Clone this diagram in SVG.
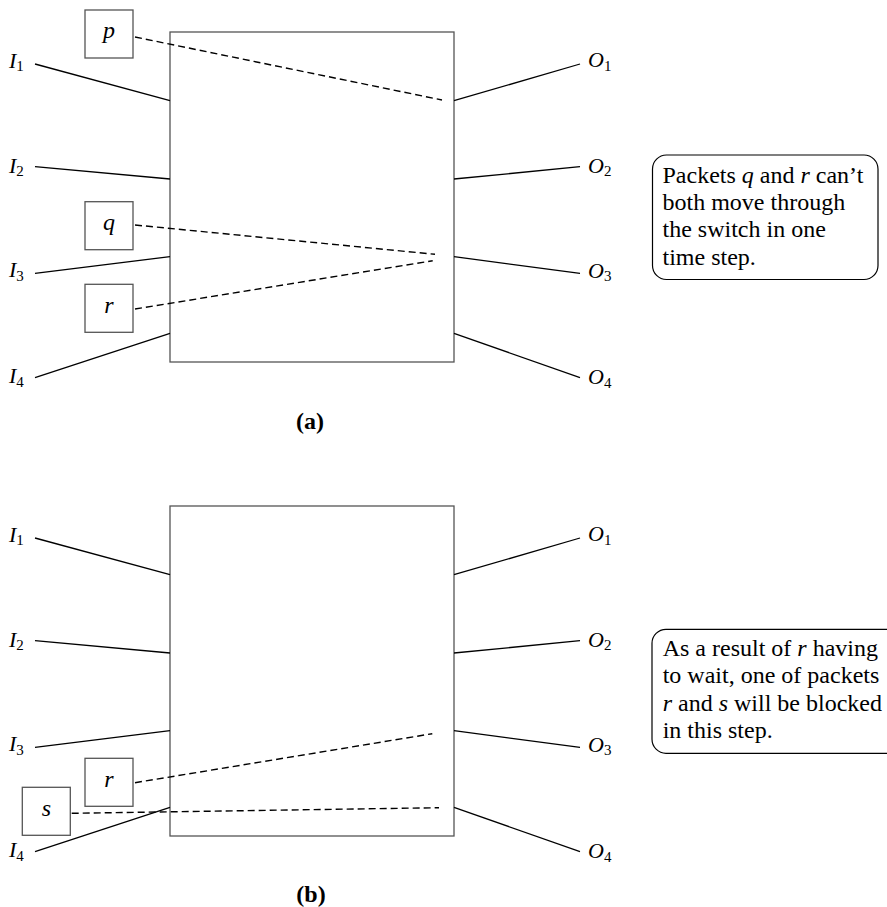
<svg xmlns="http://www.w3.org/2000/svg" width="887" height="907" viewBox="0 0 887 907">
<style>
  .sw { fill: none; stroke: #555; stroke-width: 1.3; }
  .pk { fill: #fff; stroke: #555; stroke-width: 1.3; }
  .ln { stroke: #000; stroke-width: 1.3; fill: none; }
  .dl { stroke: #000; stroke-width: 1.4; fill: none; stroke-dasharray: 7 4; }
  .lbl { font-family: "Liberation Serif", "Times New Roman", serif; font-size: 22px; font-style: italic; fill: #000; }
  .sub { font-size: 15px; font-style: normal; }
  .pl { font-family: "Liberation Serif", "Times New Roman", serif; font-size: 24px; font-style: italic; fill: #000; text-anchor: middle; }
  .note { font-family: "Liberation Serif", "Times New Roman", serif; font-size: 24px; fill: #000; }
  .it { font-style: italic; }
  .cap { font-family: "Liberation Serif", "Times New Roman", serif; font-size: 24px; font-weight: bold; fill: #000; text-anchor: middle; }
  .nb { fill: #fff; stroke: #000; stroke-width: 1.2; }
</style>

<!-- ===== Part (a) ===== -->
<g id="switch-a"><rect class="sw" x="170" y="32" width="284" height="330"/></g>

<g id="connectors-a">
  <line class="ln" x1="35" y1="64" x2="170" y2="100.7"/>
  <line class="ln" x1="35" y1="166.7" x2="170" y2="179"/>
  <line class="ln" x1="35" y1="273.3" x2="170" y2="256.7"/>
  <line class="ln" x1="35" y1="377.7" x2="170" y2="333.3"/>
  <line class="ln" x1="454" y1="100.7" x2="580" y2="64"/>
  <line class="ln" x1="454" y1="179" x2="580" y2="166.7"/>
  <line class="ln" x1="454" y1="256.7" x2="580" y2="273.3"/>
  <line class="ln" x1="454" y1="333.3" x2="580" y2="377.7"/>
  <line class="dl" x1="135" y1="37" x2="442" y2="100"/>
  <line class="dl" x1="135" y1="225" x2="435" y2="254.3"/>
  <line class="dl" x1="135" y1="309" x2="432.7" y2="260.7"/>
</g>

<g id="labels-a">
  <text class="lbl" x="9" y="67.5">I<tspan class="sub" dy="3.5">1</tspan></text>
  <text class="lbl" x="9" y="172.5">I<tspan class="sub" dy="3.5">2</tspan></text>
  <text class="lbl" x="9" y="277">I<tspan class="sub" dy="3.5">3</tspan></text>
  <text class="lbl" x="9" y="383">I<tspan class="sub" dy="3.5">4</tspan></text>
  <text class="lbl" x="588" y="67">O<tspan class="sub" dy="3.5">1</tspan></text>
  <text class="lbl" x="588" y="172.5">O<tspan class="sub" dy="3.5">2</tspan></text>
  <text class="lbl" x="588" y="277.5">O<tspan class="sub" dy="3.5">3</tspan></text>
  <text class="lbl" x="588" y="384">O<tspan class="sub" dy="3.5">4</tspan></text>
</g>

<g id="packet-p-a"><rect class="pk" x="85" y="10" width="48" height="48"/><text class="pl" x="109" y="37.5">p</text></g>
<g id="packet-q-a"><rect class="pk" x="85" y="201.7" width="48" height="48"/><text class="pl" x="109" y="229.5">q</text></g>
<g id="packet-r-a"><rect class="pk" x="85" y="284.3" width="48" height="48"/><text class="pl" x="109" y="313">r</text></g>

<g id="note-a">
  <rect class="nb" x="652.5" y="155" width="225.5" height="124.5" rx="14"/>
  <text class="note" x="662.5" y="182.7">Packets <tspan class="it">q</tspan> and <tspan class="it">r</tspan> can’t</text>
  <text class="note" x="662.5" y="210">both move through</text>
  <text class="note" x="662.5" y="237.3">the switch in one</text>
  <text class="note" x="662.5" y="264.7">time step.</text>
</g>

<g id="caption-a"><text class="cap" x="310" y="428.5">(a)</text></g>

<!-- ===== Part (b) ===== -->
<g id="switch-b"><rect class="sw" x="170" y="506" width="284" height="330"/></g>

<g id="connectors-b">
  <line class="ln" x1="35" y1="538" x2="170" y2="574.7"/>
  <line class="ln" x1="35" y1="640.7" x2="170" y2="653"/>
  <line class="ln" x1="35" y1="747.3" x2="170" y2="730.7"/>
  <line class="ln" x1="35" y1="851.7" x2="170" y2="807.3"/>
  <line class="ln" x1="454" y1="574.7" x2="580" y2="538"/>
  <line class="ln" x1="454" y1="653" x2="580" y2="640.7"/>
  <line class="ln" x1="454" y1="730.7" x2="580" y2="747.3"/>
  <line class="ln" x1="454" y1="807.3" x2="580" y2="851.7"/>
  <line class="dl" x1="135" y1="782.7" x2="432.3" y2="733.7"/>
  <line class="dl" x1="71.7" y1="813.3" x2="439" y2="807.7"/>
</g>

<g id="labels-b">
  <text class="lbl" x="9" y="541.5">I<tspan class="sub" dy="3.5">1</tspan></text>
  <text class="lbl" x="9" y="646.5">I<tspan class="sub" dy="3.5">2</tspan></text>
  <text class="lbl" x="9" y="751">I<tspan class="sub" dy="3.5">3</tspan></text>
  <text class="lbl" x="9" y="857">I<tspan class="sub" dy="3.5">4</tspan></text>
  <text class="lbl" x="588" y="541">O<tspan class="sub" dy="3.5">1</tspan></text>
  <text class="lbl" x="588" y="646.5">O<tspan class="sub" dy="3.5">2</tspan></text>
  <text class="lbl" x="588" y="751.5">O<tspan class="sub" dy="3.5">3</tspan></text>
  <text class="lbl" x="588" y="858">O<tspan class="sub" dy="3.5">4</tspan></text>
</g>

<g id="packet-r-b"><rect class="pk" x="85" y="758.3" width="48" height="48"/><text class="pl" x="109" y="786.8">r</text></g>
<g id="packet-s-b"><rect class="pk" x="22.3" y="787.3" width="48" height="48"/><text class="pl" x="46.5" y="816">s</text></g>

<g id="note-b">
  <rect class="nb" x="652" y="629.3" width="250" height="124" rx="14"/>
  <text class="note" x="662.7" y="656">As a result of <tspan class="it">r</tspan> having</text>
  <text class="note" x="662.7" y="683.3">to wait, one of packets</text>
  <text class="note" x="662.7" y="710.6"><tspan class="it">r</tspan> and <tspan class="it">s</tspan> will be blocked</text>
  <text class="note" x="662.7" y="738">in this step.</text>
</g>

<g id="caption-b"><text class="cap" x="311" y="902">(b)</text></g>
</svg>
